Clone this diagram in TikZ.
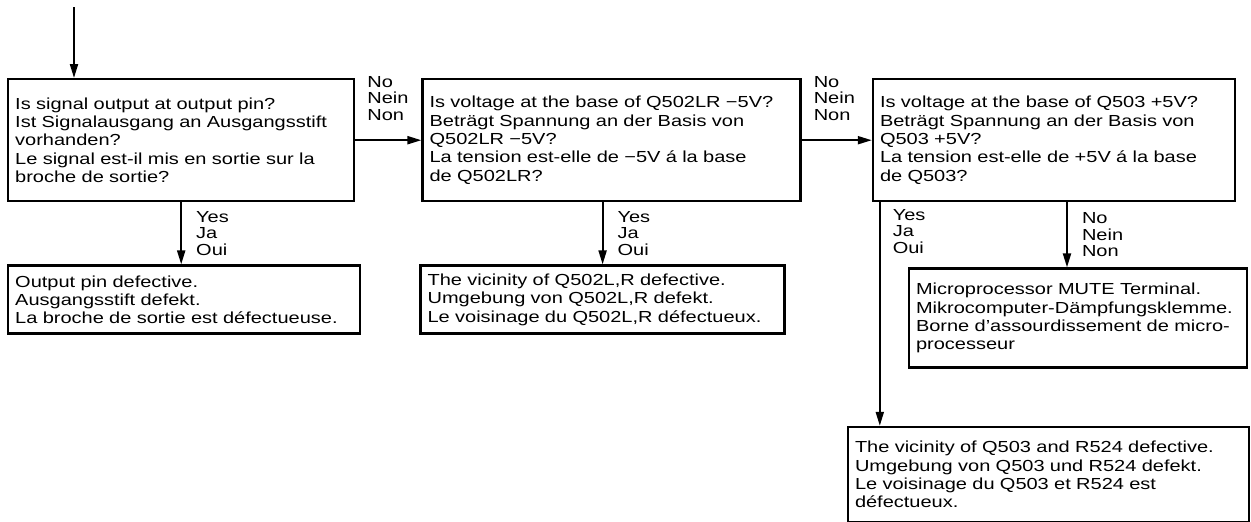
\documentclass[tikz,border=0pt]{standalone}
\usepackage{fontspec}
\setmainfont{Liberation Sans}[FakeStretch=1.25]
\usetikzlibrary{arrows.meta, positioning}
\tikzset{
  box/.style   = {draw, line width=2.4pt, align=left, inner xsep=7pt,
                  inner ysep=4pt, font=\fontsize{16}{18.3}\selectfont},
  ask/.style   = {box, minimum height=122pt},
  fault/.style = {box},
  ans/.style   = {align=left, inner sep=0pt,
                  font=\fontsize{16}{16.5}\selectfont},
  flow/.style  = {-{Triangle[length=14pt, width=8pt]}, line width=2pt},
}

\begin{document}
\begin{tikzpicture}[x=1pt, y=1pt]

  \useasboundingbox (0,0) rectangle (1251,-522);

  %% ---------------- the three questions ----------------
  \node[ask, anchor=north west, text width=332pt] (sig) at (7,-78)
       {Is signal output at output pin?\\
        Ist Signalausgang an Ausgangsstift\\
        vorhanden?\\
        Le signal est-il mis en sortie sur la\\
        broche de sortie?};

  \node[ask, right=66pt of sig, text width=364pt] (volt1)
       {Is voltage at the base of Q502LR −5V?\\
        Beträgt Spannung an der Basis von\\
        Q502LR −5V?\\
        La tension est-elle de −5V á la base\\
        de Q502LR?};

  \node[ask, right=70pt of volt1, text width=348pt] (volt2)
       {Is voltage at the base of Q503 +5V?\\
        Beträgt Spannung an der Basis von\\
        Q503 +5V?\\
        La tension est-elle de +5V á la base\\
        de Q503?};

  %% ---------------- the findings ----------------
  \node[fault, below=62pt of sig.south west, anchor=north west,
        text width=338pt, minimum height=68pt] (pin)
       {Output pin defective.\\
        Ausgangsstift defekt.\\
        La broche de sortie est défectueuse.};

  \node[fault, below=62pt of volt1.south west, anchor=north west,
        xshift=-2pt, text width=350pt, minimum height=68pt] (near1)
       {The vicinity of Q502L,R defective.\\
        Umgebung von Q502L,R defekt.\\
        Le voisinage du Q502L,R défectueux.};

  \node[fault, below right=65pt and 36pt of volt2.south west,
        text width=324pt, minimum height=99pt] (mute)
       {Microprocessor MUTE Terminal.\\
        Mikrocomputer-Dämpfungsklemme.\\
        Borne d’assourdissement de micro-\\
        processeur};

  \node[fault, below=57pt of mute.south west, anchor=north west,
        xshift=-61pt, text width=387pt, minimum height=95pt] (near2)
       {The vicinity of Q503 and R524 defective.\\
        Umgebung von Q503 und R524 defekt.\\
        Le voisinage du Q503 et R524 est\\
        défectueux.};

  %% ---------------- connectors ----------------
  \coordinate (start) at (74,-7);
  \draw[flow] (start) -- (start |- sig.north);

  \draw[flow] (sig.east) --
       node[ans, anchor=south west, pos=0, xshift=11pt, yshift=19pt] {No\\Nein\\Non}
       (volt1.west);
  \draw[flow] (volt1.east) --
       node[ans, anchor=south west, pos=0, xshift=11pt, yshift=19pt] {No\\Nein\\Non}
       (volt2.west);

  \draw[flow] (sig.south) --
       node[ans, right, xshift=14pt] {Yes\\Ja\\Oui}
       (sig.south |- pin.north);
  \draw[flow] (volt1.south -| near1.north) --
       node[ans, right, xshift=14pt] {Yes\\Ja\\Oui}
       (near1.north);

  \draw[flow] ([xshift=8pt]volt2.south west) --
       node[ans, right, pos=0.13, xshift=12pt] {Yes\\Ja\\Oui}
       ([xshift=8pt]volt2.south west |- near2.north);
  \draw[flow] ([xshift=-11pt]mute.north |- volt2.south) --
       node[ans, right, xshift=14pt] {No\\Nein\\Non}
       ([xshift=-11pt]mute.north);

\end{tikzpicture}
\end{document}
